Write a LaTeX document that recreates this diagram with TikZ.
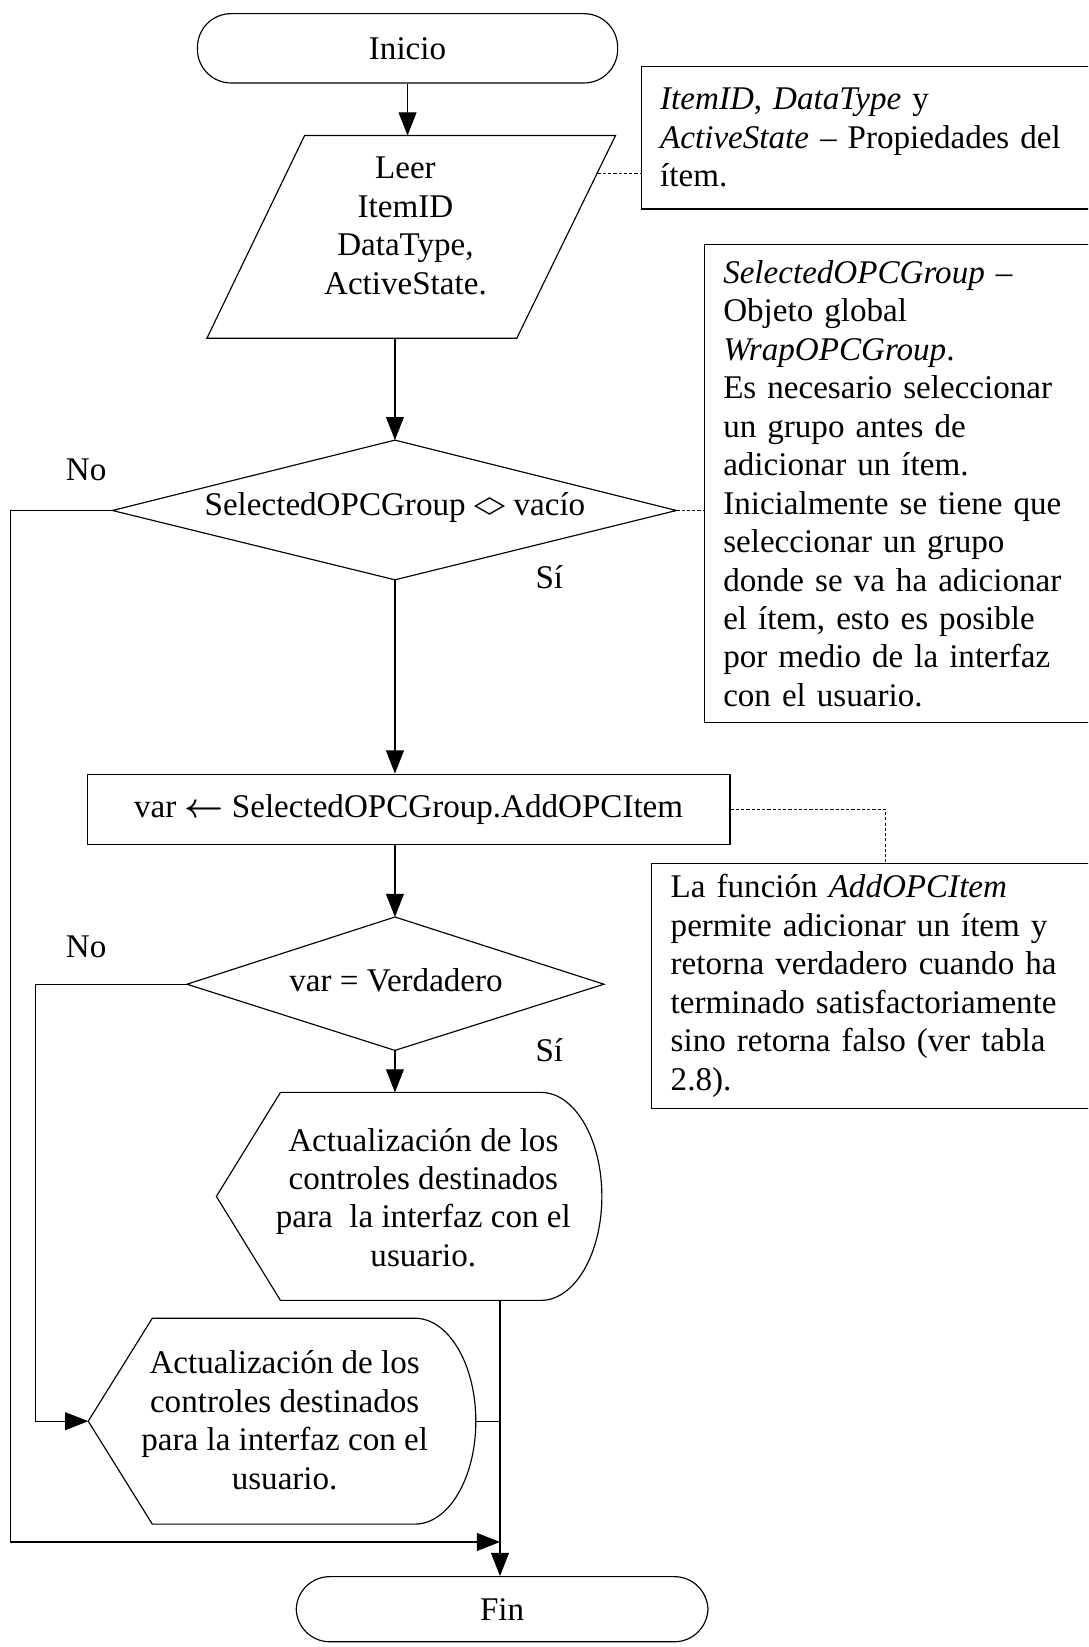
\documentclass[tikz,border=0pt]{standalone}
\usepackage{amsmath}
\usepackage{fontspec}
\setmainfont{Liberation Serif}
\newfontfamily\symfont{DejaVu Sans}
\usetikzlibrary{arrows.meta}
% "distinto de" sign, drawn as a flat lozenge
\newcommand{\distinto}{\raisebox{0.1em}{\resizebox{0.95em}{0.45em}{\symfont ◇}}}
% assignment arrow
\newcommand{\asigna}{\scalebox{1.3}{$\boldsymbol{\leftarrow}$}}

\begin{document}
\begin{tikzpicture}[x=1pt,y=-1pt,
  font=\fontsize{31.5}{36.6}\selectfont,
  line/.style={line width=1.1pt},
  flow/.style={line width=1.1pt,-{Triangle[length=22pt,width=17pt]}},
  link/.style={line width=0.9pt,dash pattern=on 3pt off 2pt},
  terminal/.style={draw,line width=1.1pt,rounded corners=32pt,minimum width=400pt,minimum height=66pt},
  process/.style={draw,line width=1.1pt,minimum width=612pt,minimum height=67pt},
  note/.style={draw,line width=1.1pt,anchor=west,align=left,inner xsep=18pt,inner ysep=0pt},
  shapeline/.style={draw,line width=1.1pt,line join=miter},
  txt/.style={align=center,inner sep=0pt},
  lbl/.style={inner sep=0pt},
]
\useasboundingbox (0,0) rectangle (1036,1568);
\clip (0,0) rectangle (1036,1568);
\fill[white] (0,0) rectangle (1036,1568);

% ---------- terminals and process ----------
\node[terminal] (start) at (388,46) {Inicio};
\node[terminal,minimum width=392pt,minimum height=62pt] (end) at (478,1532) {Fin};
\node[process] (assign) at (389,770.5) {var \asigna{} SelectedOPCGroup.AddOPCItem};

% ---------- input (parallelogram) ----------
\coordinate (read-top) at (388,129);
\coordinate (read-bottom) at (376,322);
\coordinate (read-right) at (569,165);
\draw[shapeline] (290,129) -- (586,129) -- (492,322) -- (197,322) -- cycle;
\node[txt] (read) at (386,215) {Leer\\ItemID\\DataType,\\ActiveState.};

% ---------- decision 1 ----------
\coordinate (d1t) at (376,419);
\coordinate (d1r) at (644,486);
\coordinate (d1b) at (376,552);
\coordinate (d1l) at (107,486);
\draw[shapeline] (d1t) -- (d1r) -- (d1b) -- (d1l) -- cycle;
\node[txt] (cond1) at (376,483) {SelectedOPCGroup \distinto{} vacío};

% ---------- decision 2 ----------
\coordinate (d2t) at (376,873);
\coordinate (d2r) at (575,937);
\coordinate (d2b) at (376,1000);
\coordinate (d2l) at (178,937);
\draw[shapeline] (d2t) -- (d2r) -- (d2b) -- (d2l) -- cycle;
\node[txt] (cond2) at (377,933) {var = Verdadero};

% ---------- display 1 ----------
\coordinate (disp1-top) at (376,1040);
\coordinate (disp1-out) at (476,1238);
\draw[shapeline] (267,1040) -- (515,1040)
  arc[start angle=-90,end angle=90,x radius=58,y radius=99]
  -- (267,1238) -- (206,1139) -- cycle;
\node[txt] (show1) at (403,1140) {Actualización de los\\controles destinados\\para\ \ la interfaz con el\\usuario.};

% ---------- display 2 ----------
\coordinate (disp2-left) at (84,1353);
\coordinate (disp2-right) at (453,1353);
\draw[shapeline] (145,1255) -- (395,1255)
  arc[start angle=-90,end angle=90,x radius=58,y radius=98]
  -- (145,1451) -- (disp2-left) -- cycle;
\node[txt] (show2) at (271,1352) {Actualización de los\\controles destinados\\para la interfaz con el\\usuario.};

% ---------- notes ----------
\node[note,text width=434pt,minimum height=136pt] (n1) at (610,131)
  {\textit{ItemID}, \textit{DataType} y\\\textit{ActiveState} – Propiedades del\\ítem.};
\node[note,text width=374pt,minimum height=455pt] (n2) at (670,460.5)
  {\textit{SelectedOPCGroup} –\\Objeto global\\\textit{WrapOPCGroup}.\\Es necesario seleccionar\\un grupo antes de\\adicionar un ítem.\\Inicialmente se tiene que\\seleccionar un grupo\\donde se va ha adicionar\\el ítem, esto es posible\\por medio de la interfaz\\con el usuario.};
\node[note,text width=424pt,minimum height=233pt] (n3) at (620,938.5)
  {La función \textit{AddOPCItem}\\permite adicionar un ítem y\\retorna verdadero cuando ha\\terminado satisfactoriamente\\sino retorna falso (ver tabla\\2.8).};

% ---------- branch labels ----------
\node[lbl] (no1) at (82,447) {No};
\node[lbl] (si1) at (523,549) {Sí};
\node[lbl] (no2) at (82,901) {No};
\node[lbl] (si2) at (523,1000) {Sí};

% ---------- main flow ----------
\draw[flow] (start.south) -- (read-top);
\draw[flow] (read-bottom) -- (d1t);
\draw[flow] (d1b) -- (d1b |- assign.north);
\draw[flow] (assign.south -| d2t) -- (d2t);
\draw[flow] (d2b) -- (disp1-top);
\draw[flow] (disp1-out) -- (disp1-out |- end.north);
\draw[line] (disp2-right) -- (disp2-right -| disp1-out);

% ---------- "No" branches ----------
\coordinate (loopA) at (10,486);
\coordinate (loopB) at (10,1468);
\coordinate (merge) at (476,1468);
\draw[flow] (d1l) -- (loopA) -- (loopB) -- (merge);
\coordinate (loopC) at (34,937);
\coordinate (loopD) at (34,1353);
\draw[flow] (d2l) -- (loopC) -- (loopD) -- (disp2-left);

% ---------- comment links ----------
\draw[link] (read-right) -- (read-right -| n1.west);
\draw[link] (d1r) -- (d1r -| n2.west);
\coordinate (elbow) at (843,770.5);
\draw[link] (assign.east) -- (elbow) -- (elbow |- n3.north);
\end{tikzpicture}
\end{document}
